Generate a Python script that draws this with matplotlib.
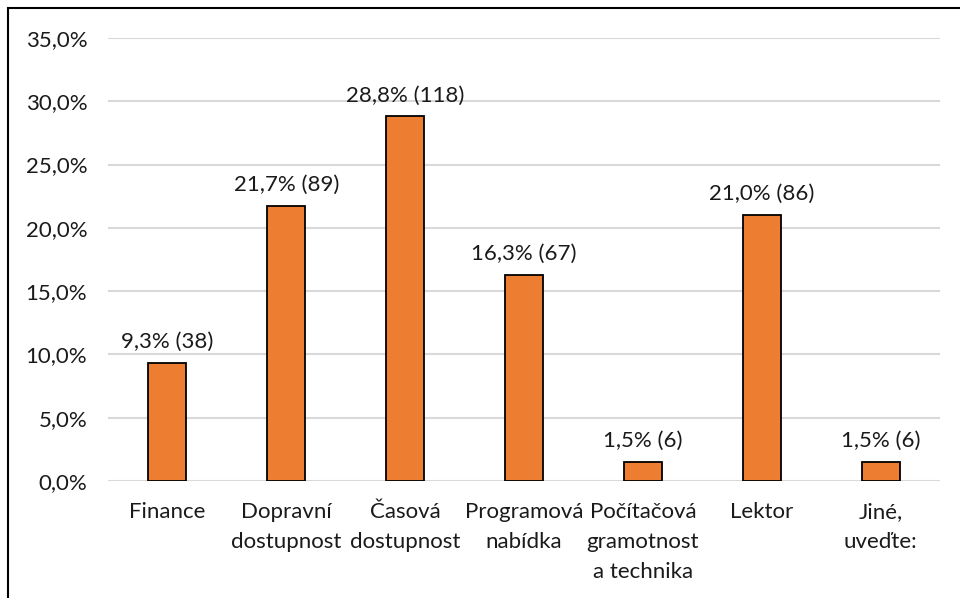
import matplotlib.pyplot as plt
from matplotlib.patches import Rectangle
import numpy as np

categories = ["Finance", "Dopravní\ndostupnost", "Časová\ndostupnost", "Programová\nnabídka",
              "Počítačová\ngramotnost\na technika", "Lektor", "Jiné,\nuveďte:"]
percents = [9.3, 21.7, 28.8, 16.3, 1.5, 21.0, 1.5]
counts = [38, 89, 118, 67, 6, 86, 6]
yticks = [0, 5, 10, 15, 20, 25, 30, 35]

plt.rcParams['font.family'] = ['Lato', 'DejaVu Sans']
fs = 16

fig = plt.figure(figsize=(9.6, 5.98), dpi=100)
W, H = 960, 598
ax = fig.add_axes([108 / W, 1 - 481 / H, 832 / W, 443 / H])

x = np.arange(len(categories))
ax.bar(x, percents, width=0.32, color="#ED7D31", edgecolor="black", linewidth=1.3, zorder=3)

for xi, p, c in zip(x, percents, counts):
    lbl = f"{p:.1f}".replace(".", ",") + f"% ({c})"
    ax.annotate(lbl, (xi, p), xytext=(0, 8), textcoords="offset points",
                ha="center", va="bottom", fontsize=fs, color="#1a1a1a")

ax.set_xlim(-0.5, len(categories) - 0.5)
ax.set_ylim(0, 35)
ax.set_yticks(yticks)
ax.set_yticklabels([f"{t:.1f}".replace(".", ",") + "%" for t in yticks])
ax.set_xticks(x)
ax.set_xticklabels(categories, linespacing=1.64)
ax.tick_params(axis="y", length=0, pad=15, labelsize=fs, labelcolor="#1a1a1a")
ax.tick_params(axis="x", length=0, pad=15, labelsize=fs, labelcolor="#1a1a1a")

ax.yaxis.grid(True, color="#D9D9D9", linewidth=1.5, zorder=0)
for s in ax.spines.values():
    s.set_visible(False)

# outer frame, partly cut off at right and bottom
fig.patches.append(Rectangle((8 / W, -0.1), 1.2, 1 - 8 / H + 0.1, transform=fig.transFigure,
                             fill=False, edgecolor="black", linewidth=1.5))

fig.savefig("out.png", dpi=100)
